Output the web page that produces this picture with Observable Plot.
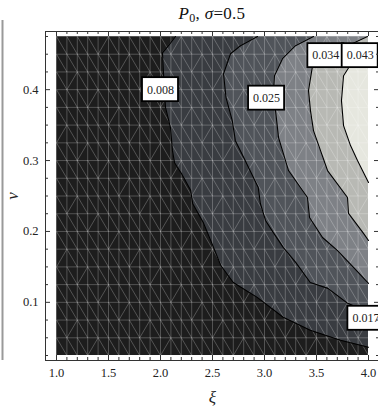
<!DOCTYPE html>
<html>
<head>
<meta charset="utf-8">
<script src="https://cdn.jsdelivr.net/npm/d3@7"></script>
<script src="https://cdn.jsdelivr.net/npm/@observablehq/plot@0.6"></script>
<style>
  body { margin: 0; background: #fff; }
  #title { position: absolute; left: 0; top: 0; width: 378px; height: 26px; text-align: center;
           font-family: "Liberation Serif", "DejaVu Serif", serif; font-size: 17px; line-height: 28px; padding-left: 46px; box-sizing: border-box; color: #111; letter-spacing: 0.3px; }
  #title sub { font-size: 12px; vertical-align: -3px; line-height: 0; }
  #chart { position: absolute; left: 0; top: 26px; }
</style>
</head>
<body>
<div id="title"><i>P</i><sub>0</sub>, <i>σ</i>=0.5</div>
<div id="chart"></div>
<script>
// ---- data: contour boundaries as (nu, xi) pairs ----
const line008 = [[0.0366,4.0],[0.0465,3.73],[0.0606,3.44],[0.079,3.18],[0.107,2.93],[0.128,2.70],[0.152,2.58],[0.1775,2.51],[0.213,2.41],[0.239,2.31],[0.258,2.29],[0.282,2.20],[0.297,2.135],[0.314,2.115],[0.3465,2.096],[0.375,2.048],[0.4225,2.029],[0.452,2.019],[0.462,2.077],[0.475,2.144]];
const line017 = [[0.0859,4.0],[0.0986,3.80],[0.1197,3.61],[0.128,3.44],[0.1563,3.30],[0.1775,3.18],[0.1972,3.09],[0.2155,3.01],[0.2394,2.96],[0.262,2.94],[0.3042,2.80],[0.328,2.72],[0.3563,2.69],[0.3887,2.63],[0.4225,2.606],[0.4507,2.673],[0.462,2.769],[0.475,2.933]];
const line025 = [[0.1268,4.0],[0.1493,3.856],[0.1732,3.70],[0.1915,3.558],[0.2197,3.433],[0.2479,3.413],[0.2859,3.231],[0.3324,3.135],[0.3704,3.106],[0.3986,3.087],[0.4197,3.096],[0.4437,3.173],[0.462,3.298],[0.475,3.471]];
const line034 = [[0.1873,4.0],[0.1972,3.952],[0.2254,3.808],[0.2479,3.798],[0.2859,3.606],[0.3423,3.471],[0.3704,3.442],[0.3986,3.423],[0.4338,3.462],[0.4479,3.587],[0.4592,3.76],[0.475,3.99]];
const line043 = [[0.269,4.0],[0.30,3.894],[0.3211,3.827],[0.3493,3.76],[0.3845,3.74],[0.4197,3.76],[0.4352,3.827],[0.4465,4.0]];
const regionColors = ["#1d1d1d","#393c41","#50545a","#7e8186","#b8b9b4","#e6e7df"];
// contour labels: [text, xi, nu]
const labelText = ["0.008","0.025","0.034","0.043","0.017"];
const labelXi   = [2.00, 3.02, 3.59, 3.92, 3.975];
const labelNu   = [0.400, 0.388, 0.448, 0.448, 0.0775];
// axes
const xiMajor = [1.0,1.5,2.0,2.5,3.0,3.5,4.0];
const xiMajorText = ["1.0","1.5","2.0","2.5","3.0","3.5","4.0"];
const nuMajor = [0.1,0.2,0.3,0.4];
const nuMajorText = ["0.1","0.2","0.3","0.4"];
const xiExtent = [1.0, 4.0];
const nuExtent = [0.025, 0.475];
const meshXiStep = 0.1, meshNuStep = 0.025;

// ---- derived ----
const XMIN = xiExtent[0], XMAX = xiExtent[1], YMIN = nuExtent[0], YMAX = nuExtent[1];
const pxX = 104, pxY = 710;           // pixels per unit
const XF0 = XMIN - 11 / pxX, XF1 = XMAX + 11 / pxX;
const YF0 = YMIN - 5 / pxY, YF1 = YMAX + 5 / pxY;
const W = 378, H = 380, mL = 45, mT = 5, mB = 46;
const xDomainMax = XF0 + (W - mL) / pxX;

const lines = [line008, line017, line025, line034, line043].map(l => l.map(([nu, xi]) => ({nu, xi})));

const mesh = [];
const nx = Math.round((XMAX - XMIN) / meshXiStep), ny = Math.round((YMAX - YMIN) / meshNuStep);
for (let i = 0; i <= nx; i++) { const x = XMIN + i * meshXiStep; mesh.push({x1: x, y1: YMIN, x2: x, y2: YMAX}); }
for (let j = 0; j <= ny; j++) { const y = YMIN + j * meshNuStep; mesh.push({x1: XMIN, y1: y, x2: XMAX, y2: y}); }
for (let i = 0; i < nx; i++) for (let j = 0; j < ny; j++) {
  const x = XMIN + i * meshXiStep, y = YMIN + j * meshNuStep;
  const flip = ((i + 2 * j) % 7 === 3);
  if (flip) mesh.push({x1: x, y1: y, x2: x + meshXiStep, y2: y + meshNuStep});
  else mesh.push({x1: x, y1: y + meshNuStep, x2: x + meshXiStep, y2: y});
}

const xiMinor = d3.range(0, 31).map(i => XMIN + i * 0.1).filter(v => !xiMajor.some(m => Math.abs(m - v) < 1e-6));
const nuMinor = d3.range(0, 19).map(i => YMIN + i * 0.025).filter(v => !nuMajor.some(m => Math.abs(m - v) < 1e-6));
const tickMaj = 5, tickMin = 3;
const frameColor = "#333";
const serif = "Liberation Serif, DejaVu Serif, serif";

const labels = labelText.map((t, i) => ({t, xi: labelXi[i], nu: labelNu[i]}));

const chart = Plot.plot({
  width: W, height: H,
  marginLeft: mL, marginRight: 0, marginTop: mT, marginBottom: mB,
  x: {domain: [XF0, xDomainMax], axis: null},
  y: {domain: [YF0, YF1], axis: null},
  style: {fontFamily: serif, background: "white", overflow: "visible"},
  marks: [
    Plot.rect([0], {x1: () => XMIN, x2: () => XMAX, y1: () => YMIN, y2: () => YMAX, fill: regionColors[0]}),
    ...lines.map((l, k) => Plot.areaX(l, {y: "nu", x1: "xi", x2: () => XMAX, fill: regionColors[k + 1], curve: "linear"})),
    Plot.link(mesh, {x1: "x1", y1: "y1", x2: "x2", y2: "y2", stroke: "white", strokeOpacity: 0.24, strokeWidth: 1}),
    ...lines.map(l => Plot.line(l, {x: "xi", y: "nu", stroke: "black", strokeWidth: 1.1, curve: "linear"})),
    Plot.rect(labels, {x1: "xi", x2: "xi", y1: "nu", y2: "nu", insetLeft: -18, insetRight: -18, insetTop: -12, insetBottom: -12, fill: "white", stroke: "black", strokeWidth: 1.8}),
    Plot.text(labels, {x: "xi", y: "nu", text: "t", fontSize: 12, fill: "#222"}),
    // frame (right side lies just outside the picture)
    Plot.ruleY([YF0], {x1: XF0, x2: XF1, stroke: frameColor}),
    Plot.ruleY([YF1], {x1: XF0, x2: XF1, stroke: frameColor}),
    Plot.ruleX([XF0], {y1: YF0, y2: YF1, stroke: frameColor}),
    // ticks bottom/top
    Plot.ruleX(xiMajor, {y1: YF0, y2: YF0 + tickMaj / pxY, stroke: frameColor}),
    Plot.ruleX(xiMinor, {y1: YF0, y2: YF0 + tickMin / pxY, stroke: frameColor}),
    Plot.ruleX(xiMajor, {y1: YF1, y2: YF1 - tickMaj / pxY, stroke: frameColor}),
    Plot.ruleX(xiMinor, {y1: YF1, y2: YF1 - tickMin / pxY, stroke: frameColor}),
    // ticks left/right
    Plot.ruleY(nuMajor, {x1: XF0, x2: XF0 + tickMaj / pxX, stroke: frameColor}),
    Plot.ruleY(nuMinor, {x1: XF0, x2: XF0 + tickMin / pxX, stroke: frameColor}),
    Plot.ruleY(nuMajor, {x1: XF1, x2: XF1 - tickMaj / pxX, stroke: frameColor}),
    Plot.ruleY(nuMinor, {x1: XF1, x2: XF1 - tickMin / pxX, stroke: frameColor}),
    // tick labels
    Plot.text(xiMajor, {x: d => d, y: () => YF0, text: (d, i) => xiMajorText[i], dy: 12, fontSize: 12.5, fill: "#222"}),
    Plot.text(nuMajor, {x: () => XF0, y: d => d, text: (d, i) => nuMajorText[i], dx: -7, textAnchor: "end", fontSize: 12.5, fill: "#222"}),
    // axis labels
    Plot.text(["ξ"], {x: () => (XMIN + XMAX) / 2, y: () => YF0, text: d => d, dy: 37, fontSize: 17, fontStyle: "italic", fill: "#222"}),
    Plot.text(["ν"], {x: () => XF0, y: () => (YMIN + YMAX) / 2, text: d => d, dx: -33, rotate: -90, fontSize: 17, fontStyle: "italic", fill: "#222"}),
    // left border line of the page
    Plot.ruleX([XF0 - 43 / pxX], {y1: YF0, y2: YF1 + 11 / pxY, stroke: "#999", strokeWidth: 2})
  ]
});
document.getElementById("chart").appendChild(chart);
</script>
</body>
</html>
